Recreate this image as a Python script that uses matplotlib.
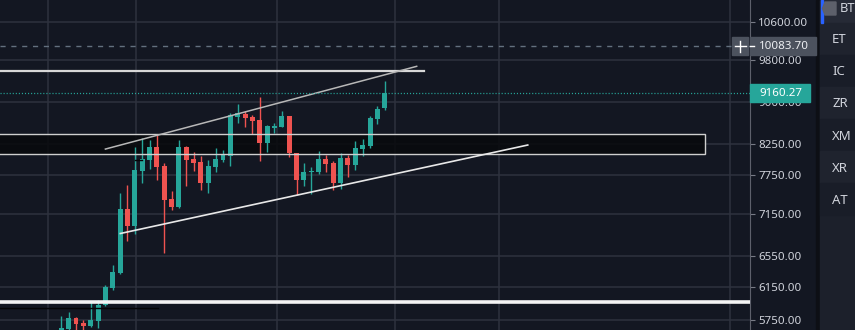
import matplotlib.pyplot as plt
from matplotlib.patches import Rectangle, Polygon
from matplotlib.ticker import NullLocator

plt.rcParams['font.family'] = ['Noto Sans', 'DejaVu Sans']
plt.rcParams['lines.scale_dashes'] = False

# candles (one per bar, left to right)
opens = [5595, 5642, 5772, 5713, 5678, 5737, 5924, 6139, 6327, 7220,
         6973, 7806, 7985, 8200, 7886, 7370, 7250, 8200, 8001, 7951,
         7616, 7870, 7985, 8050, 8721, 8775, 8721, 8668, 8268, 8527,
         8544, 8739, 8100, 7663, 7790, 7790, 8001, 7935, 7616, 8017,
         7902, 8167, 8217, 8686, 8884]
highs = [5796, 5843, 5784, 5749, 5975, 5987, 6177, 6435, 7461, 7585,
         8200, 8353, 8319, 8422, 7935, 7492, 8319, 8216, 8117, 8050,
         7985, 8184, 8150, 8793, 8957, 8830, 8757, 9087, 8579, 8615,
         8830, 8745, 8105, 7935, 7870, 8133, 8067, 7968, 8100, 8067,
         8302, 8336, 8739, 8921, 9391]
lows = [5572, 5619, 5608, 5631, 5670, 5654, 5911, 6114, 6315, 6761,
        6859, 7616, 7838, 7663, 6596, 7205, 7240, 7569, 7806, 7507,
        7461, 7790, 7951, 7886, 8615, 8544, 8422, 7968, 8117, 8440,
        8538, 8034, 7431, 7569, 7446, 7758, 7790, 7507, 7523, 7710,
        7822, 8050, 8184, 8597, 8848]
closes = [5654, 5772, 5701, 5678, 5749, 5924, 6150, 6341, 7220, 6973,
          7822, 8001, 8200, 7870, 7355, 7250, 8200, 7985, 7935, 7616,
          7886, 8001, 8067, 8757, 8793, 8703, 8650, 8268, 8562, 8562,
          8739, 8100, 7663, 7790, 7806, 8001, 7919, 7616, 8017, 7902,
          8184, 8234, 8703, 8866, 9160.27]

price_ticks = [5750, 6150, 6550, 7150, 7750, 8250, 9000, 9800, 10600]
price_labels = ['%.2f' % p for p in price_ticks]
last_price = 9160.27
marker_price = 10083.70
# watchlist names as far as they show in the narrow panel
watchlist = ['BT', 'ET', 'IC', 'ZR', 'XM', 'XR', 'AT']

# user drawings
resist_price, resist_end = 9576, 49.35
support_price = 5969
shadow_price, shadow_end = 5888, 13.16
zone_top, zone_bottom, zone_end = 8422, 8084, 87.62
upper_x, upper_y = [6.0, 48.35], [8166, 9678]
lower_x, lower_y = [8.03, 63.46], [6866, 8234]
time_grid = [-1.85, 10.2, 29.4, 45.45, 59.6, 90.95]

bg = '#131722'
grid_c = '#2e323e'
green = '#26a69a'
red = '#ef5350'
text_c = '#d1d4dc'

fig = plt.figure(figsize=(8.55, 3.3), dpi=100, facecolor=bg)
ax = fig.add_axes([0, 0, 750 / 855, 1])
ax.set_facecolor(bg)
ax.set_yscale('log')
ax.set_xlim(-8.34, 93.7)
ax.set_ylim(5632, 11090)

# grid
ax.set_yticks(price_ticks, price_labels)
ax.yaxis.set_minor_locator(NullLocator())
ax.set_xticks(time_grid)
ax.grid(True, color=grid_c, lw=1.1, zorder=0)
ax.set_axisbelow(True)
ax.tick_params(axis='x', length=0, labelbottom=False)
ax.yaxis.tick_right()
ax.tick_params(axis='y', which='both', direction='out', length=3.5, width=0.8,
               color='#787b86', labelcolor=text_c, labelsize=8.3, pad=2.5)
for s in ['top', 'left', 'bottom']:
    ax.spines[s].set_visible(False)
ax.spines['right'].set_color('#5d606b')
ax.spines['right'].set_linewidth(0.8)

# dark zone box
ax.add_patch(Rectangle((-9, zone_bottom), zone_end + 9, zone_top - zone_bottom,
                       facecolor='#08090c', alpha=0.85, edgecolor='none', zorder=1))
ax.add_patch(Rectangle((-9, zone_bottom), zone_end + 9, zone_top - zone_bottom,
                       facecolor='none', edgecolor='#cfcfcf', lw=1.0, zorder=4))

# candles
xs = list(range(len(opens)))
cols = [green if c >= o else red for o, c in zip(opens, closes)]
ax.vlines(xs, lows, highs, colors=cols, lw=1.0, zorder=2)
bottoms = [min(o, c) for o, c in zip(opens, closes)]
heights = [max(abs(c - o), 4) for o, c in zip(opens, closes)]
ax.bar(xs, heights, bottom=bottoms, width=0.68, color=cols, zorder=3)

# horizontal levels
ax.plot([-9, resist_end], [resist_price, resist_price], color='#d8d8d8', lw=1.6, zorder=5)
ax.plot([-9, 94], [support_price, support_price], color='#f4f4f4', lw=2.6, zorder=5)
ax.plot([-9, shadow_end], [shadow_price, shadow_price], color='#050608', lw=1.0, zorder=5)
ax.plot([10.0, 10.95], [7985, 7985], color='#050608', lw=1.0, zorder=5)

# channel
ax.plot(upper_x, upper_y, color='#b8b8b8', lw=1.1, zorder=5)
ax.plot(lower_x, lower_y, color='#e8e8e8', lw=1.2, zorder=5)

# price lines
ax.axhline(marker_price, color='#63707e', lw=1.0, dashes=(3.7, 4.1), zorder=5)
ax.axhline(last_price, color=green, lw=0.9, dashes=(0.8, 1.4), zorder=5)

# overlay in pixel units for price badges and the watchlist
ov = fig.add_axes([0, 0, 1, 1])
ov.set_xlim(0, 855)
ov.set_ylim(0, 330)
ov.axis('off')
ov.patch.set_alpha(0)


def to_px(p):
    return ax.transData.transform((0, p))[1]


ym = to_px(marker_price)
ov.add_patch(Rectangle((750, ym - 9), 66, 18, color='#4c525e', zorder=2))
ov.add_patch(Rectangle((732, ym - 9), 16, 18, color='#4c525e', zorder=2))
ov.plot([734.5, 745.5], [ym, ym], color='white', lw=1.0, zorder=3)
ov.plot([740, 740], [ym - 5.5, ym + 5.5], color='white', lw=1.0, zorder=3)
ov.plot([750, 754], [ym, ym], color='white', lw=1.0, zorder=3)
ov.text(759, ym, '%.2f' % marker_price, color='#eef0f4', fontsize=8.3,
        va='center', ha='left', zorder=4)

yl = to_px(last_price)
ov.add_patch(Rectangle((750, yl - 8.5), 60, 17.5, color=green, zorder=2))
ov.text(759, yl, '%.2f' % last_price, color='white', fontsize=8.3,
        va='center', ha='left', zorder=4)

# watchlist sidebar
ov.add_patch(Rectangle((816, 0), 4, 330, color='#0d0f15', zorder=1))
ov.add_patch(Rectangle((820, 0), 35, 330, color='#1c202b', zorder=1))
ov.add_patch(Rectangle((820, 307), 35, 23, color='#262a36', zorder=1))
for k in range(1, 7):
    top = 330 - 23 - 32 * (k - 1)
    c = '#1f232e' if k % 2 == 1 else '#191d28'
    ov.add_patch(Rectangle((820, top - 32), 35, 32, color=c, zorder=1))
ov.add_patch(Rectangle((820.5, 307), 2, 23, color='#2962ff', zorder=2))
ov.add_patch(Polygon([(825, 328), (836, 328), (836, 315), (825, 315), (822.5, 321.5)],
                     closed=True, color='#5d606b', zorder=2))
ov.text(839.5, 322, watchlist[0], color=text_c, fontsize=9.2, va='center',
        ha='left', zorder=3)
for k, name in enumerate(watchlist[1:]):
    ov.text(832, 330 - (39.5 + 32.2 * k), name, color=text_c, fontsize=9.5,
            va='center', ha='left', zorder=3)

fig.savefig('out.png', dpi=100, facecolor=bg)
